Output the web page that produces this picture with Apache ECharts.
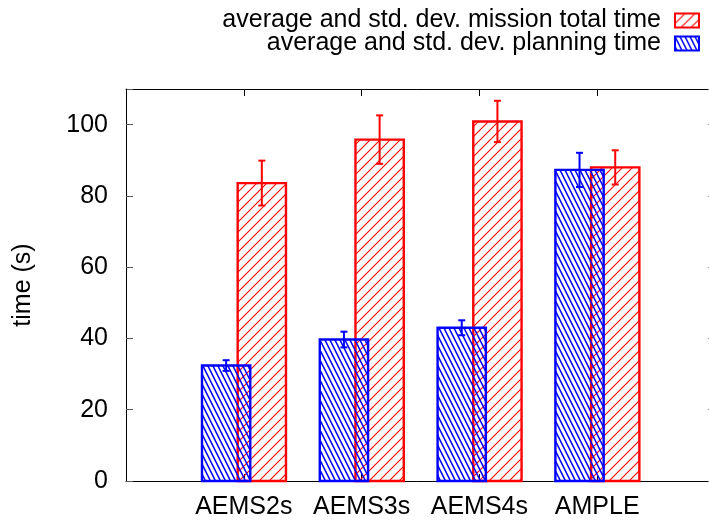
<!DOCTYPE html>
<html>
<head>
<meta charset="utf-8">
<script src="https://cdn.jsdelivr.net/npm/echarts@6/dist/echarts.min.js"></script>
<style>
html,body{margin:0;padding:0;background:#fff;}
#chart{width:709px;height:522px;}
</style>
</head>
<body>
<div id="chart"></div>
<script>
// ---- data ----
const categories = ['AEMS2s', 'AEMS3s', 'AEMS4s', 'AMPLE'];
const planningMean = [32.4, 39.7, 43.0, 87.3];
const planningStd = [1.5, 2.2, 2.1, 4.8];
const missionMean = [83.6, 95.8, 100.9, 88.0];
const missionStd = [6.3, 6.8, 5.8, 4.8];
const yTickValues = [0, 20, 40, 60, 80, 100];
const missionName = 'average and std. dev. mission total time';
const planningName = 'average and std. dev. planning time';

// ---- hatch patterns ----
function makePattern(w, h, color, lw, draw) {
  const c = document.createElement('canvas');
  c.width = w; c.height = h;
  const ctx = c.getContext('2d');
  ctx.strokeStyle = color;
  ctx.lineWidth = lw;
  draw(ctx, w, h);
  return c;
}
const redCanvas = makePattern(10, 10, '#ff0000', 1.1, (ctx, w, h) => {
  ctx.beginPath();
  ctx.moveTo(-2, h + 2); ctx.lineTo(w + 2, -2);
  ctx.moveTo(-2, 2); ctx.lineTo(2, -2);
  ctx.moveTo(w - 2, h + 2); ctx.lineTo(w + 2, h - 2);
  ctx.stroke();
});
const blueCanvas = makePattern(5, 10, '#0000ff', 1.5, (ctx, w, h) => {
  ctx.beginPath();
  ctx.moveTo(-w, -h); ctx.lineTo(2 * w, 2 * h);
  ctx.moveTo(0 - w, 0); ctx.lineTo(w, 2 * h);
  ctx.moveTo(0, -h); ctx.lineTo(2 * w, h);
  ctx.stroke();
});
const redPattern = { image: redCanvas, repeat: 'repeat' };
const bluePattern = { image: blueCanvas, repeat: 'repeat' };

const FONT = 'Liberation Sans, Arial, Helvetica, sans-serif';
const FS = 25;
const BAR_W = 0.41;

function makeRender(offset, color, pattern) {
  return function (params, api) {
    const x = api.value(0) + offset;
    const y = api.value(1);
    const e = api.value(2);
    const p0 = api.coord([x - BAR_W / 2, 0]);
    const p1 = api.coord([x + BAR_W / 2, y]);
    const c = api.coord([x, y]);
    const top = api.coord([x, y + e]);
    const bot = api.coord([x, y - e]);
    const cap = 3.5;
    return {
      type: 'group',
      children: [
        {
          type: 'rect',
          shape: { x: p0[0], y: p1[1], width: p1[0] - p0[0], height: p0[1] - p1[1] },
          style: { fill: pattern, stroke: color, lineWidth: 2.4 }
        },
        { type: 'line', shape: { x1: c[0], y1: top[1], x2: c[0], y2: bot[1] }, style: { stroke: color, lineWidth: 2 } },
        { type: 'line', shape: { x1: c[0] - cap, y1: top[1], x2: c[0] + cap, y2: top[1] }, style: { stroke: color, lineWidth: 2 } },
        { type: 'line', shape: { x1: c[0] - cap, y1: bot[1], x2: c[0] + cap, y2: bot[1] }, style: { stroke: color, lineWidth: 2 } }
      ]
    };
  };
}

const chart = echarts.init(document.getElementById('chart'), null, { renderer: 'canvas' });

const legendBase = {
  orient: 'vertical',
  right: 9,
  align: 'right',
  padding: 0,
  itemWidth: 24,
  itemHeight: 14,
  selectedMode: false,
  textStyle: { fontSize: FS, fontFamily: FONT, color: '#000', padding: [0, 9, 0, 0] }
};

const option = {
  animation: false,
  backgroundColor: '#fff',
  grid: { left: 126, top: 89, width: 589, height: 392, containLabel: false, outerBoundsMode: 'none' },
  legend: [
    Object.assign({}, legendBase, {
      top: 8,
      data: [{ name: missionName, icon: 'rect', itemStyle: { color: redPattern, borderColor: '#ff0000', borderWidth: 2 } }]
    }),
    Object.assign({}, legendBase, {
      top: 31,
      data: [{ name: planningName, icon: 'rect', itemStyle: { color: bluePattern, borderColor: '#0000ff', borderWidth: 2 } }]
    })
  ],
  xAxis: [
    {
      type: 'value', position: 'bottom', min: -1, max: 4, interval: 1,
      axisLine: { show: true, onZero: false, lineStyle: { color: '#000', width: 1 } },
      axisTick: { show: true, inside: true, length: 7, lineStyle: { color: '#000' } },
      splitLine: { show: false },
      axisLabel: {
        fontSize: FS, fontFamily: FONT, color: '#000', margin: 14,
        formatter: v => (categories[v] !== undefined ? categories[v] : '')
      }
    },
    {
      type: 'value', position: 'top', min: -1, max: 4, interval: 1,
      axisLine: { show: true, onZero: false, lineStyle: { color: '#000', width: 1 } },
      axisTick: { show: true, inside: true, length: 7, lineStyle: { color: '#000' } },
      splitLine: { show: false },
      axisLabel: { show: false }
    }
  ],
  yAxis: [
    {
      type: 'value', position: 'left', min: 0, max: 110, interval: 20,
      name: 'time (s)', nameLocation: 'middle', nameGap: 90,
      nameTextStyle: { fontSize: FS, fontFamily: FONT, color: '#000' },
      axisLine: { show: true, onZero: false, lineStyle: { color: '#000', width: 1 } },
      axisTick: { show: true, inside: true, length: 7, lineStyle: { color: '#555' } },
      splitLine: { show: false },
      axisLabel: {
        fontSize: FS, fontFamily: FONT, color: '#000', margin: 18,
        formatter: v => (yTickValues.indexOf(v) >= 0 ? String(v) : '')
      }
    },
    {
      type: 'value', position: 'right', min: 0, max: 110, interval: 20,
      axisLine: { show: true, onZero: false, lineStyle: { color: '#000', width: 1 } },
      axisTick: { show: true, inside: true, length: 7, lineStyle: { color: '#888' } },
      splitLine: { show: false },
      axisLabel: { show: false }
    }
  ],
  series: [
    {
      name: missionName,
      type: 'custom',
      xAxisIndex: 0, yAxisIndex: 0,
      z: 2,
      itemStyle: { color: '#ff0000' },
      renderItem: makeRender(0.153, '#ff0000', redPattern),
      encode: { x: 0, y: 1 },
      data: categories.map((c, i) => [i, missionMean[i], missionStd[i]])
    },
    {
      name: planningName,
      type: 'custom',
      xAxisIndex: 0, yAxisIndex: 0,
      z: 3,
      itemStyle: { color: '#0000ff' },
      renderItem: makeRender(-0.15, '#0000ff', bluePattern),
      encode: { x: 0, y: 1 },
      data: categories.map((c, i) => [i, planningMean[i], planningStd[i]])
    }
  ]
};
chart.setOption(option);
</script>
</body>
</html>
